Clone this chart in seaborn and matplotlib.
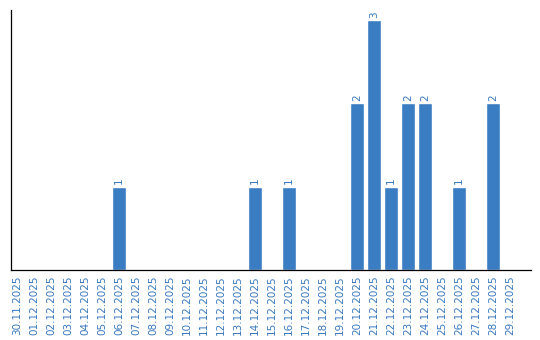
import matplotlib
matplotlib.use("Agg")
import matplotlib.pyplot as plt
import seaborn as sns
import pandas as pd

dates = ["30.11.2025", "01.12.2025", "02.12.2025", "03.12.2025", "04.12.2025",
         "05.12.2025", "06.12.2025", "07.12.2025", "08.12.2025", "09.12.2025",
         "10.12.2025", "11.12.2025", "12.12.2025", "13.12.2025", "14.12.2025",
         "15.12.2025", "16.12.2025", "17.12.2025", "18.12.2025", "19.12.2025",
         "20.12.2025", "21.12.2025", "22.12.2025", "23.12.2025", "24.12.2025",
         "25.12.2025", "26.12.2025", "27.12.2025", "28.12.2025", "29.12.2025"]
counts = [0, 0, 0, 0, 0, 0, 1, 0, 0, 0,
          0, 0, 0, 0, 1, 0, 1, 0, 0, 0,
          2, 3, 1, 2, 2, 0, 1, 0, 2, 0]

BLUE = "#3a7dc2"
TXT = "#3a78bd"

sns.set_style("white")
plt.rcParams['font.family'] = ['DejaVu Sans']

df = pd.DataFrame({"date": dates, "count": counts})

fig = plt.figure(figsize=(5.4, 3.4), dpi=100)
ax = fig.add_axes([10.5/540, 1-270/340, (530.7-10.5)/540, (270-10)/340])
sns.barplot(data=df, x="date", y="count", color=BLUE, saturation=1, width=0.84, ax=ax)

for i, v in enumerate(counts):
    if v > 0:
        ax.text(i, v + 0.03, str(v), rotation=90, ha="center", va="bottom",
                fontsize=7.5, color=TXT)

ax.set_xlim(-0.38, 30.2)
ax.set_ylim(0, 3.12)
ax.set_xlabel("")
ax.set_ylabel("")
ax.set_yticks([])
ax.set_xticks(range(len(dates)))
ax.set_xticklabels(dates, rotation=90, fontsize=7.5, color=TXT)
ax.tick_params(axis="x", length=0, pad=4)
for s in ["top", "right"]:
    ax.spines[s].set_visible(False)
for s in ["left", "bottom"]:
    ax.spines[s].set_color("black")
    ax.spines[s].set_linewidth(0.9)

fig.savefig("out.png", dpi=100)
